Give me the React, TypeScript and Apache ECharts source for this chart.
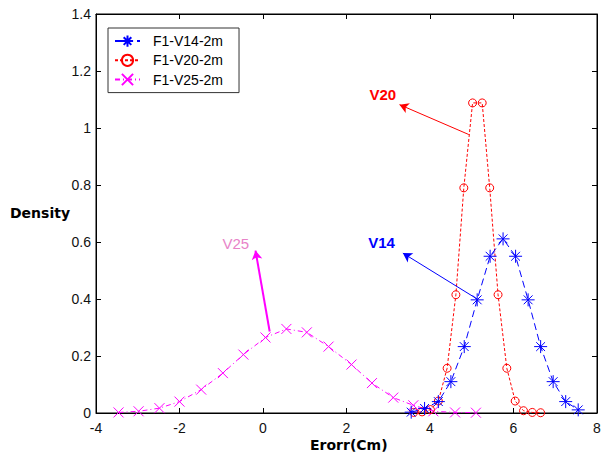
import React, { useEffect, useRef } from "react";
import * as echarts from "echarts";

// Error samples (cm) and estimated densities for each test
const v14X = [3.55, 3.87, 4.2, 4.5, 4.82, 5.13, 5.44, 5.75, 6.05, 6.35, 6.65, 6.95, 7.25, 7.55];
const v14Y = [0.003, 0.016, 0.04, 0.11, 0.233, 0.397, 0.55, 0.611, 0.55, 0.397, 0.233, 0.11, 0.04, 0.011];

const v20X = [3.61, 3.81, 4.01, 4.2, 4.41, 4.62, 4.81, 5.02, 5.25, 5.43, 5.63, 5.84, 6.04, 6.24, 6.45, 6.65];
const v20Y = [0.002, 0.004, 0.012, 0.042, 0.157, 0.415, 0.79, 1.088, 1.088, 0.79, 0.415, 0.157, 0.042, 0.008, 0.002, 0.001];

const v25X = [-3.46, -2.98, -2.48, -2.0, -1.48, -0.96, -0.47, 0.06, 0.56, 1.05, 1.57, 2.12, 2.61, 3.12, 3.6, 4.08, 4.6, 5.1];
const v25Y = [0.002, 0.006, 0.017, 0.04, 0.082, 0.14, 0.205, 0.265, 0.295, 0.283, 0.233, 0.17, 0.105, 0.054, 0.027, 0.006, 0.002, 0.001];

const seriesNames = ["F1-V14-2m", "F1-V20-2m", "F1-V25-2m"];
const xTicks = { min: -4, max: 8, interval: 2 };
const yTicks = { min: 0, max: 1.4, interval: 0.2 };

// Annotation arrows: [tailX, tailY, tipX, tipY] and label anchors
const arrowV14 = [5.13, 0.4, 3.35, 0.561];
const arrowV20 = [4.93, 0.977, 3.27, 1.082];
const arrowV25 = [0.16, 0.286, -0.18, 0.57];
const labelV14 = [2.84, 0.597];
const labelV20 = [2.87, 1.118];
const labelV25 = [-0.65, 0.594];

const BLUE = "#0000ff";
const RED = "#ff0000";
const MAGENTA = "#ff00ff";

const ASTERISK = "path://M5,0L5,10M0,5L10,5M1.6,1.6L8.4,8.4M1.6,8.4L8.4,1.6";
const CROSS = "path://M0,0L10,10M0,10L10,0";

const SANS = "Liberation Sans, Arial, sans-serif";

const pairs = (xs: number[], ys: number[]) => xs.map((x, i) => [x, ys[i]]);

function arrow(a: number[], color: string, width: number) {
  return {
    silent: true,
    symbol: ["none", "arrow"],
    symbolSize: [8, 9],
    lineStyle: { color, width, type: "solid" },
    label: { show: false },
    data: [[{ coord: [a[0], a[1]] }, { coord: [a[2], a[3]] }]],
  };
}

function tag(text: string, at: number[], color: string, bold: boolean) {
  return {
    silent: true,
    symbol: "circle",
    symbolSize: 0,
    data: [{ coord: at, value: text }],
    label: {
      show: true,
      position: "inside",
      formatter: text,
      color,
      fontFamily: SANS,
      fontWeight: bold ? "bold" : "normal",
      fontSize: 15,
    },
  };
}

function frameAxis(extra: object, labels: object | null) {
  return {
    type: "value",
    ...extra,
    axisLine: { show: true, onZero: false, lineStyle: { color: "#000", width: 1 } },
    axisTick: { show: true, inside: true, length: 5, lineStyle: { color: "#000" } },
    axisLabel: labels ? labels : { show: false },
    splitLine: { show: false },
  };
}

export default function App() {
  const ref = useRef<HTMLDivElement>(null);

  useEffect(() => {
    document.body.style.margin = "0";
    if (!ref.current) return;
    const chart = echarts.init(ref.current, null, { renderer: "svg" });
    const tickFont = { fontFamily: SANS, fontSize: 14, color: "#111" };
    const titleFont = {
      fontFamily: "DejaVu Sans, Verdana, sans-serif",
      fontWeight: "bold",
      fontSize: 14,
      fill: "#000",
    };
    chart.setOption({
      animation: false,
      backgroundColor: "#fff",
      grid: {
        left: 96,
        right: 11,
        top: 14,
        bottom: 48,
        show: true,
        borderColor: "#000",
        borderWidth: 1,
        backgroundColor: "transparent",
      },
      legend: {
        left: 108,
        top: 28,
        orient: "vertical",
        backgroundColor: "#fff",
        borderColor: "#333",
        borderWidth: 1,
        borderRadius: 0,
        padding: [5, 16, 5, 6],
        itemGap: 3,
        itemWidth: 25,
        itemHeight: 14,
        textStyle: { fontFamily: SANS, fontSize: 14, color: "#000", padding: [0, 0, 0, 8] },
        data: seriesNames,
      },
      xAxis: [
        frameAxis(xTicks, { ...tickFont, margin: 8 }),
        frameAxis({ ...xTicks, position: "top" }, null),
      ],
      yAxis: [
        frameAxis(yTicks, {
          ...tickFont,
          margin: 5,
          formatter: (v: number) => String(Math.round(v * 10) / 10),
        }),
        frameAxis({ ...yTicks, position: "right" }, null),
      ],
      graphic: [
        { type: "text", left: 10, top: 206, style: { text: "Density", ...titleFont } },
        { type: "text", left: 310, top: 438, style: { text: "Erorr(Cm)", ...titleFont } },
      ],
      series: [
        {
          name: seriesNames[0],
          type: "line",
          data: pairs(v14X, v14Y),
          symbol: ASTERISK,
          symbolSize: 13,
          showAllSymbol: true,
          lineStyle: { color: BLUE, width: 1, type: [7, 4] },
          itemStyle: { color: "none", borderColor: BLUE, borderWidth: 1 },
          markLine: arrow(arrowV14, BLUE, 1),
          markPoint: tag("V14", labelV14, BLUE, true),
          z: 3,
        },
        {
          name: seriesNames[1],
          type: "line",
          data: pairs(v20X, v20Y),
          symbol: "circle",
          symbolSize: 8,
          showAllSymbol: true,
          lineStyle: { color: RED, width: 1, type: [3, 2] },
          itemStyle: { color: "none", borderColor: RED, borderWidth: 1 },
          markLine: arrow(arrowV20, RED, 1),
          markPoint: tag("V20", labelV20, RED, true),
          z: 2,
        },
        {
          name: seriesNames[2],
          type: "line",
          data: pairs(v25X, v25Y),
          symbol: CROSS,
          symbolSize: 10,
          showAllSymbol: true,
          lineStyle: { color: MAGENTA, width: 1, type: [5, 3, 1, 3] },
          itemStyle: { color: "none", borderColor: MAGENTA, borderWidth: 1 },
          markLine: arrow(arrowV25, MAGENTA, 2),
          markPoint: tag("V25", labelV25, "#e883c8", false),
          z: 1,
        },
      ],
    });
    return () => chart.dispose();
  }, []);

  return <div ref={ref} style={{ width: 608, height: 461 }} />;
}
